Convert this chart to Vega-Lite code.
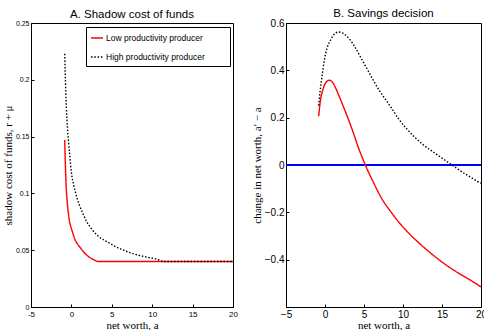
{
  "$schema": "https://vega.github.io/schema/vega-lite/v6.json",
  "padding": {"left": 1, "top": 7, "right": 0, "bottom": 0},
  "background": "white",
  "config": {
    "view": {"stroke": "black", "strokeWidth": 1},
    "font": "Liberation Sans",
    "axis": {
      "domainColor": "black", "tickColor": "black", "labelColor": "black", "titleColor": "black",
      "grid": false, "labelFont": "Liberation Sans", "titleFont": "Liberation Serif",
      "titleFontWeight": "normal", "titleFontSize": 11, "tickSize": -3, "labelPadding": 5,
      "labelFlush": false, "labelOverlap": false, "labelBound": false
    },
    "title": {"font": "Liberation Sans", "fontSize": 11.5, "fontWeight": "normal", "color": "black", "offset": -1},
    "legend": {
      "orient": "top-right", "offset": 3.5, "title": null, "strokeColor": "black", "fillColor": "white",
      "padding": 4, "labelFontSize": 8.5, "labelFont": "Liberation Sans", "labelColor": "black",
      "symbolType": "stroke", "symbolSize": 144, "symbolStrokeWidth": 1.5, "rowPadding": 7, "labelOffset": 2
    }
  },
  "datasets": {
    "funds": [
      {"a": -0.83, "v": 0.147, "s": "Low productivity producer"},
      {"a": -0.75, "v": 0.126, "s": "Low productivity producer"},
      {"a": -0.63, "v": 0.104, "s": "Low productivity producer"},
      {"a": -0.5, "v": 0.091, "s": "Low productivity producer"},
      {"a": -0.35, "v": 0.081, "s": "Low productivity producer"},
      {"a": -0.21, "v": 0.0745, "s": "Low productivity producer"},
      {"a": 0.0, "v": 0.069, "s": "Low productivity producer"},
      {"a": 0.2, "v": 0.0645, "s": "Low productivity producer"},
      {"a": 0.41, "v": 0.060, "s": "Low productivity producer"},
      {"a": 0.8, "v": 0.055, "s": "Low productivity producer"},
      {"a": 1.23, "v": 0.051, "s": "Low productivity producer"},
      {"a": 1.7, "v": 0.047, "s": "Low productivity producer"},
      {"a": 2.26, "v": 0.0437, "s": "Low productivity producer"},
      {"a": 2.8, "v": 0.0415, "s": "Low productivity producer"},
      {"a": 3.3, "v": 0.040, "s": "Low productivity producer"},
      {"a": 5, "v": 0.040, "s": "Low productivity producer"},
      {"a": 10, "v": 0.040, "s": "Low productivity producer"},
      {"a": 15, "v": 0.040, "s": "Low productivity producer"},
      {"a": 20, "v": 0.040, "s": "Low productivity producer"},
      {"a": -0.83, "v": 0.223, "s": "High productivity producer"},
      {"a": -0.7, "v": 0.19, "s": "High productivity producer"},
      {"a": -0.55, "v": 0.165, "s": "High productivity producer"},
      {"a": -0.35, "v": 0.145, "s": "High productivity producer"},
      {"a": -0.2, "v": 0.133, "s": "High productivity producer"},
      {"a": -0.01, "v": 0.119, "s": "High productivity producer"},
      {"a": 0.3, "v": 0.107, "s": "High productivity producer"},
      {"a": 0.61, "v": 0.098, "s": "High productivity producer"},
      {"a": 1.0, "v": 0.0895, "s": "High productivity producer"},
      {"a": 1.44, "v": 0.082, "s": "High productivity producer"},
      {"a": 1.9, "v": 0.075, "s": "High productivity producer"},
      {"a": 2.46, "v": 0.069, "s": "High productivity producer"},
      {"a": 3.3, "v": 0.0625, "s": "High productivity producer"},
      {"a": 4.53, "v": 0.057, "s": "High productivity producer"},
      {"a": 5.5, "v": 0.053, "s": "High productivity producer"},
      {"a": 6.6, "v": 0.0496, "s": "High productivity producer"},
      {"a": 7.6, "v": 0.047, "s": "High productivity producer"},
      {"a": 8.65, "v": 0.045, "s": "High productivity producer"},
      {"a": 9.6, "v": 0.0435, "s": "High productivity producer"},
      {"a": 10.5, "v": 0.0423, "s": "High productivity producer"},
      {"a": 11.5, "v": 0.040, "s": "High productivity producer"},
      {"a": 15, "v": 0.040, "s": "High productivity producer"},
      {"a": 20, "v": 0.040, "s": "High productivity producer"}
    ],
    "savings": [
      {"a": -0.81, "v": 0.206, "s": "Low productivity producer"},
      {"a": -0.6, "v": 0.27, "s": "Low productivity producer"},
      {"a": -0.38, "v": 0.305, "s": "Low productivity producer"},
      {"a": -0.1, "v": 0.335, "s": "Low productivity producer"},
      {"a": 0.2, "v": 0.352, "s": "Low productivity producer"},
      {"a": 0.55, "v": 0.358, "s": "Low productivity producer"},
      {"a": 0.9, "v": 0.352, "s": "Low productivity producer"},
      {"a": 1.3, "v": 0.330, "s": "Low productivity producer"},
      {"a": 1.7, "v": 0.300, "s": "Low productivity producer"},
      {"a": 2.18, "v": 0.261, "s": "Low productivity producer"},
      {"a": 2.8, "v": 0.210, "s": "Low productivity producer"},
      {"a": 3.46, "v": 0.152, "s": "Low productivity producer"},
      {"a": 4.32, "v": 0.070, "s": "Low productivity producer"},
      {"a": 5.17, "v": 0.0, "s": "Low productivity producer"},
      {"a": 6.2, "v": -0.073, "s": "Low productivity producer"},
      {"a": 7.31, "v": -0.144, "s": "Low productivity producer"},
      {"a": 8.4, "v": -0.196, "s": "Low productivity producer"},
      {"a": 9.45, "v": -0.241, "s": "Low productivity producer"},
      {"a": 10.7, "v": -0.287, "s": "Low productivity producer"},
      {"a": 12.0, "v": -0.328, "s": "Low productivity producer"},
      {"a": 13.5, "v": -0.371, "s": "Low productivity producer"},
      {"a": 15.0, "v": -0.410, "s": "Low productivity producer"},
      {"a": 16.5, "v": -0.444, "s": "Low productivity producer"},
      {"a": 18.0, "v": -0.474, "s": "Low productivity producer"},
      {"a": 19.0, "v": -0.494, "s": "Low productivity producer"},
      {"a": 20.0, "v": -0.515, "s": "Low productivity producer"},
      {"a": -0.81, "v": 0.251, "s": "High productivity producer"},
      {"a": -0.6, "v": 0.32, "s": "High productivity producer"},
      {"a": -0.38, "v": 0.375, "s": "High productivity producer"},
      {"a": -0.1, "v": 0.44, "s": "High productivity producer"},
      {"a": 0.26, "v": 0.494, "s": "High productivity producer"},
      {"a": 0.7, "v": 0.527, "s": "High productivity producer"},
      {"a": 1.12, "v": 0.550, "s": "High productivity producer"},
      {"a": 1.76, "v": 0.562, "s": "High productivity producer"},
      {"a": 2.4, "v": 0.555, "s": "High productivity producer"},
      {"a": 3.04, "v": 0.536, "s": "High productivity producer"},
      {"a": 3.9, "v": 0.495, "s": "High productivity producer"},
      {"a": 4.74, "v": 0.445, "s": "High productivity producer"},
      {"a": 5.8, "v": 0.382, "s": "High productivity producer"},
      {"a": 6.88, "v": 0.319, "s": "High productivity producer"},
      {"a": 7.31, "v": 0.298, "s": "High productivity producer"},
      {"a": 8.5, "v": 0.242, "s": "High productivity producer"},
      {"a": 9.45, "v": 0.194, "s": "High productivity producer"},
      {"a": 10.5, "v": 0.152, "s": "High productivity producer"},
      {"a": 11.58, "v": 0.115, "s": "High productivity producer"},
      {"a": 12.6, "v": 0.085, "s": "High productivity producer"},
      {"a": 13.72, "v": 0.059, "s": "High productivity producer"},
      {"a": 15.0, "v": 0.029, "s": "High productivity producer"},
      {"a": 16.28, "v": 0.0, "s": "High productivity producer"},
      {"a": 17.5, "v": -0.028, "s": "High productivity producer"},
      {"a": 18.7, "v": -0.052, "s": "High productivity producer"},
      {"a": 19.7, "v": -0.072, "s": "High productivity producer"},
      {"a": 20.0, "v": -0.077, "s": "High productivity producer"}
    ]
  },
  "spacing": 12,
  "resolve": {
    "scale": {"color": "independent", "strokeDash": "independent"},
    "legend": {"color": "independent", "strokeDash": "independent"}
  },
  "hconcat": [
    {
      "title": "A. Shadow cost of funds",
      "width": 202,
      "height": 284,
      "data": {"name": "funds"},
      "mark": {"type": "line", "strokeWidth": 1.4, "interpolate": "monotone"},
      "encoding": {
        "x": {"field": "a", "type": "quantitative",
          "scale": {"domain": [-5, 20], "nice": false, "zero": false},
          "axis": {"values": [-5, 0, 5, 10, 15, 20], "title": "net worth, a", "labelFontSize": 8, "labelPadding": 6, "titlePadding": 1, "labelExpr": "'' + datum.value"}},
        "y": {"field": "v", "type": "quantitative",
          "scale": {"domain": [0, 0.25], "nice": false},
          "axis": {"values": [0, 0.05, 0.1, 0.15, 0.2, 0.25], "labelExpr": "'' + datum.value", "labelFontSize": 7, "title": "shadow cost of funds, r + μ", "titlePadding": 2}},
        "color": {"field": "s", "type": "nominal",
          "scale": {"domain": ["Low productivity producer", "High productivity producer"], "range": ["#FF0000", "#000000"]},
          "legend": {"labelExpr": "datum.label + '\u2800\u2800\u2800'"}},
        "strokeDash": {"field": "s", "type": "nominal",
          "scale": {"domain": ["Low productivity producer", "High productivity producer"], "range": [[1, 0], [1.5, 1.8]]},
          "legend": {"labelExpr": "datum.label + '\u2800\u2800\u2800'"}}
      }
    },
    {
      "title": "B. Savings decision",
      "width": 195,
      "height": 284,
      "data": {"name": "savings"},
      "layer": [
        {
          "mark": {"type": "rule", "color": "#0000FF", "strokeWidth": 1},
          "encoding": {"y": {"datum": 0}}
        },
        {
          "mark": {"type": "line", "strokeWidth": 1.4, "interpolate": "monotone"},
          "encoding": {
            "x": {"field": "a", "type": "quantitative",
              "scale": {"domain": [-5, 20], "nice": false, "zero": false},
              "axis": {"values": [-5, 0, 5, 10, 15, 20], "title": "net worth, a", "labelFontSize": 10, "labelPadding": 5, "titlePadding": 0}},
            "y": {"field": "v", "type": "quantitative",
              "scale": {"domain": [-0.6, 0.6], "nice": false},
              "axis": {"values": [-0.4, -0.2, 0, 0.2, 0.4, 0.6], "labelExpr": "replace('' + datum.value, '-', '−')", "labelFontSize": 10, "title": "change in net worth, a′ − a", "titlePadding": 2}},
            "color": {"field": "s", "type": "nominal", "legend": null,
              "scale": {"domain": ["Low productivity producer", "High productivity producer"], "range": ["#FF0000", "#000000"]}},
            "strokeDash": {"field": "s", "type": "nominal", "legend": null,
              "scale": {"domain": ["Low productivity producer", "High productivity producer"], "range": [[1, 0], [1.5, 1.8]]}}
          }
        }
      ]
    }
  ]
}
